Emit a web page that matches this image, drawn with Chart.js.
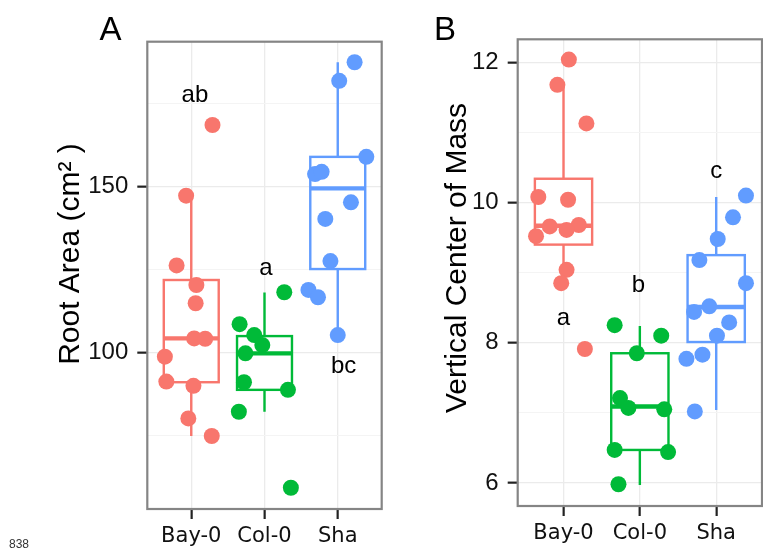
<!DOCTYPE html>
<html>
<head>
<meta charset="utf-8">
<script src="https://cdn.jsdelivr.net/npm/chart.js@4.4.0/dist/chart.umd.min.js"></script>
<style>
  html, body { margin: 0; padding: 0; background: #fff; overflow: hidden; }
  #wrap { position: relative; width: 763px; height: 550px; overflow: hidden; }
  #chartA { position: absolute; left: 0; top: 0; }
  #chartB { position: absolute; left: 390px; top: 0; }
  #pageNo { position: absolute; left: 9px; top: 537px; font: 12px "Liberation Sans", Arial, sans-serif; color: #333; }
</style>
</head>
<body>
<div id="wrap">
  <canvas id="chartA" width="390" height="550"></canvas>
  <canvas id="chartB" width="380" height="550"></canvas>
  <div id="pageNo">838</div>
</div>
<script>
const categories = ['Bay-0', 'Col-0', 'Sha'];
const colors = ['#F8766D', '#00BA38', '#619CFF'];

// A: root area (cm2), one array per accession + horizontal jitter (category units)
const areaBay = [168.6, 147.3, 126.3, 120.4, 114.9, 104.3, 104.2, 98.8, 91.3, 90.0, 80.2, 74.9];
const areaBayJit = [0.29, -0.07, -0.20, 0.07, 0.06, 0.04, 0.19, -0.36, -0.34, 0.03, -0.04, 0.28];
const areaCol = [118.2, 108.6, 105.3, 102.3, 99.8, 91.1, 88.8, 82.2, 59.3];
const areaColJit = [0.27, -0.34, -0.14, -0.03, -0.26, -0.28, 0.32, -0.35, 0.36];
const areaSha = [187.5, 181.9, 159.0, 153.8, 154.5, 145.3, 140.3, 127.6, 118.9, 116.7, 105.3];
const areaShaJit = [0.23, 0.02, 0.39, -0.31, -0.22, 0.18, -0.17, -0.10, -0.40, -0.27, 0.0];

// box stats A (Bay-0, Col-0, Sha)
const areaLow = [74.9, 82.2, 105.3];
const areaQ1 = [91.1, 88.8, 125.2];
const areaMed = [104.3, 99.8, 149.5];
const areaQ3 = [121.9, 105.0, 159.0];
const areaHigh = [147.3, 118.1, 187.5];

const areaLetters = ['ab', 'a', 'bc'];
const areaLetterX = [0.05, 1.02, 2.08];
const areaLetterY = [177.6, 125.4, 95.8];

// B: vertical center of mass
const comBay = [12.04, 11.68, 11.13, 10.08, 10.04, 9.66, 9.68, 9.61, 9.52, 9.04, 8.85, 7.91];
const comBayJit = [0.07, -0.08, 0.30, -0.33, 0.06, -0.18, 0.20, 0.04, -0.36, 0.04, -0.03, 0.28];
const comCol = [8.25, 8.10, 7.85, 7.21, 7.07, 7.05, 6.47, 6.44, 5.98];
const comColJit = [-0.33, 0.28, -0.04, -0.26, -0.15, 0.32, -0.33, 0.37, -0.28];
const comSha = [10.10, 9.79, 9.48, 9.18, 8.85, 8.52, 8.44, 8.29, 8.10, 7.83, 7.77, 7.02];
const comShaJit = [0.39, 0.22, 0.02, -0.22, 0.39, -0.09, -0.29, 0.17, 0.01, -0.18, -0.39, -0.28];

const comLow = [8.85, 5.97, 7.04];
const comQ1 = [9.40, 6.47, 8.01];
const comMed = [9.67, 7.09, 8.51];
const comQ3 = [10.34, 7.85, 9.25];
const comHigh = [11.68, 8.24, 10.08];

const comLetters = ['a', 'b', 'c'];
const comLetterX = [0.0, 0.98, 2.0];
const comLetterY = [8.35, 8.82, 10.44];

function makePanel(id, p) {
    const datasets = p.series.map((vals, i) => ({
        data: vals.map((v, k) => ({ x: i + p.jitter[i][k], y: v })),
        backgroundColor: colors[i],
        pointRadius: 8,
        pointHoverRadius: 8,
        borderWidth: 0
    }));

    // boxes go under the points
    const boxPlugin = {
        id: 'boxes',
        beforeDatasetsDraw(chart) {
            const { ctx, scales: { x, y } } = chart;
            ctx.save();
            categories.forEach((c, i) => {
                const cx = x.getPixelForValue(i);
                const hw = x.getPixelForValue(i + 0.375) - cx;
                const lo = y.getPixelForValue(p.box.low[i]);
                const q1 = y.getPixelForValue(p.box.q1[i]);
                const med = y.getPixelForValue(p.box.med[i]);
                const q3 = y.getPixelForValue(p.box.q3[i]);
                const hi = y.getPixelForValue(p.box.high[i]);
                ctx.strokeStyle = colors[i];
                ctx.lineWidth = 2.4;
                ctx.beginPath();
                ctx.moveTo(cx, hi); ctx.lineTo(cx, q3);
                ctx.moveTo(cx, q1); ctx.lineTo(cx, lo);
                ctx.stroke();
                ctx.fillStyle = '#fff';
                ctx.fillRect(cx - hw, q3, 2 * hw, q1 - q3);
                ctx.strokeRect(cx - hw, q3, 2 * hw, q1 - q3);
                ctx.lineWidth = 4.4;
                ctx.beginPath();
                ctx.moveTo(cx - hw, med); ctx.lineTo(cx + hw, med);
                ctx.stroke();
            });
            ctx.restore();
        }
    };

    // letters, panel border, panel tag and y title
    const overlayPlugin = {
        id: 'overlay',
        afterDatasetsDraw(chart) {
            const { ctx, chartArea: a, scales: { x, y } } = chart;
            ctx.save();
            ctx.fillStyle = '#000';
            ctx.font = '24px "Liberation Sans", Arial, sans-serif';
            ctx.textAlign = 'center';
            ctx.textBaseline = 'middle';
            p.letters.forEach((t, i) => {
                ctx.fillText(t, x.getPixelForValue(p.letterX[i]), y.getPixelForValue(p.letterY[i]));
            });

            ctx.strokeStyle = '#858585';
            ctx.lineWidth = 2.2;
            ctx.strokeRect(a.left, a.top, a.right - a.left, a.bottom - a.top);

            ctx.fillStyle = '#000';
            ctx.font = '33px "Liberation Sans", Arial, sans-serif';
            ctx.textBaseline = 'alphabetic';
            ctx.fillText(p.tag, p.tagX, 40);

            ctx.font = '30px "Liberation Sans", Arial, sans-serif';
            ctx.textBaseline = 'middle';
            ctx.translate(p.titleX, p.titleY);
            ctx.rotate(-Math.PI / 2);
            ctx.fillText(p.title, 0, 0);
            ctx.restore();
        }
    };

    new Chart(document.getElementById(id), {
        type: 'scatter',
        data: { datasets },
        options: {
            responsive: false,
            animation: false,
            events: [],
            layout: { padding: p.pad },
            plugins: { legend: { display: false }, tooltip: { enabled: false } },
            scales: {
                x: {
                    type: 'linear',
                    min: -0.6,
                    max: 2.6,
                    afterFit: (s) => { s.height = p.xAxisH; },
                    ticks: {
                        stepSize: 1,
                        includeBounds: false,
                        autoSkip: false,
                        maxRotation: 0,
                        padding: 5,
                        color: '#111',
                        font: { family: 'DejaVu Sans', size: 21 },
                        callback: (v) => categories[v] ?? ''
                    },
                    grid: { color: '#ebebeb', lineWidth: 1.3, tickLength: 10, tickColor: '#222', tickWidth: 2.2 },
                    border: { display: false }
                },
                y: {
                    min: p.yMin,
                    max: p.yMax,
                    afterFit: (s) => { s.width = p.yAxisW; },
                    ticks: {
                        stepSize: p.step,
                        includeBounds: false,
                        padding: 9,
                        color: '#111',
                        font: { family: 'Liberation Sans', size: 24 },
                        callback: (v) => (Math.abs(v % p.major) < 1e-6 ? v : '')
                    },
                    grid: {
                        color: (c) => (Math.abs(c.tick.value % p.major) < 1e-6 ? '#ebebeb' : '#f4f4f4'),
                        lineWidth: (c) => (Math.abs(c.tick.value % p.major) < 1e-6 ? 1.3 : 1),
                        tickLength: 10,
                        tickWidth: 2.2,
                        tickColor: (c) => (Math.abs(c.tick.value % p.major) < 1e-6 ? '#222' : 'rgba(0,0,0,0)')
                    },
                    border: { display: false }
                }
            }
        },
        plugins: [boxPlugin, overlayPlugin]
    });
}

makePanel('chartA', {
    series: [areaBay, areaCol, areaSha],
    jitter: [areaBayJit, areaColJit, areaShaJit],
    box: { low: areaLow, q1: areaQ1, med: areaMed, q3: areaQ3, high: areaHigh },
    letters: areaLetters, letterX: areaLetterX, letterY: areaLetterY,
    yMin: 52.9, yMax: 193.7, step: 25, major: 50,
    pad: { left: 0, right: 8.3, top: 41.7, bottom: 0 },
    yAxisW: 147.3, xAxisH: 41,
    tag: 'A', tagX: 110.5,
    title: 'Root Area (cm\u00B2 )', titleX: 71, titleY: 254
});

makePanel('chartB', {
    series: [comBay, comCol, comSha],
    jitter: [comBayJit, comColJit, comShaJit],
    box: { low: comLow, q1: comQ1, med: comMed, q3: comQ3, high: comHigh },
    letters: comLetters, letterX: comLetterX, letterY: comLetterY,
    yMin: 5.67, yMax: 12.33, step: 1, major: 2,
    pad: { left: 0, right: 1.1, top: 39.3, bottom: 0 },
    yAxisW: 127.7, xAxisH: 44,
    tag: 'B', tagX: 55,
    title: 'Vertical Center of Mass', titleX: 68, titleY: 258
});
</script>
</body>
</html>
